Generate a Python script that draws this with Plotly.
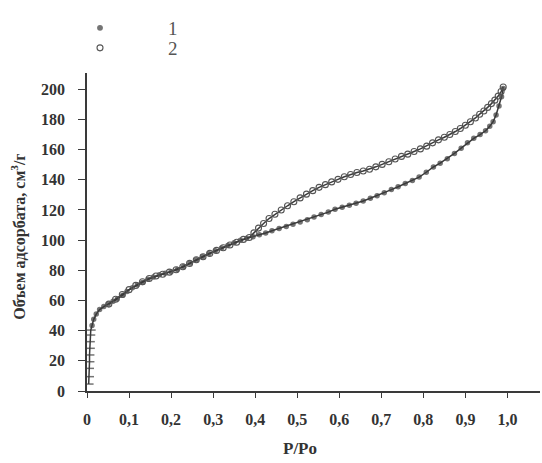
import plotly.graph_objects as go

# Series 1: adsorption branch (filled markers)
p1 = [0.004, 0.005, 0.005, 0.006, 0.006, 0.007, 0.007, 0.008, 0.009, 0.012,
      0.016, 0.022, 0.030, 0.040, 0.050, 0.062, 0.072, 0.085, 0.095, 0.108,
      0.120, 0.132, 0.145, 0.158, 0.172, 0.186, 0.200, 0.215, 0.230, 0.245,
      0.260, 0.275, 0.290, 0.305, 0.320, 0.335, 0.350, 0.365, 0.380, 0.395,
      0.410, 0.425, 0.440, 0.457, 0.474, 0.490, 0.507, 0.524, 0.540, 0.557,
      0.574, 0.590, 0.607, 0.624, 0.640, 0.657, 0.674, 0.690, 0.707, 0.724,
      0.740, 0.757, 0.774, 0.790, 0.807, 0.824, 0.840, 0.857, 0.874, 0.890,
      0.905, 0.920, 0.935, 0.948, 0.958, 0.966, 0.973, 0.980, 0.986, 0.990]
v1 = [4.6, 9.5, 15.0, 19.4, 23.9, 28.3, 32.7, 37.1, 40.4, 43.5,
      47.5, 51.0, 54.0, 56.0, 57.5, 59.5, 61.0, 63.5, 66.0, 68.5,
      70.5, 72.0, 74.0, 75.5, 77.0, 78.0, 79.0, 80.5, 82.5, 84.8,
      87.0, 89.0, 91.0, 93.0, 94.8, 96.5, 98.2, 100.0, 101.2, 102.3,
      103.5, 104.8, 106.2, 107.8, 109.0, 110.5, 112.0, 113.6, 115.3, 117.0,
      118.6, 120.5, 121.8, 123.2, 124.5, 126.0, 127.8, 129.5, 131.5, 133.5,
      135.4, 137.5, 139.5, 141.8, 145.0, 148.5, 151.0, 154.0, 157.5, 161.0,
      164.5, 167.5, 170.0, 172.5, 175.5, 178.5, 183.0, 189.0, 195.0, 200.5]

# Series 2: desorption branch (open circles)
p2 = [0.990, 0.985, 0.978, 0.970, 0.962, 0.953, 0.944, 0.934, 0.924, 0.912,
      0.900, 0.888, 0.876, 0.863, 0.850, 0.836, 0.822, 0.808, 0.793, 0.778,
      0.763, 0.748, 0.733, 0.718, 0.702, 0.687, 0.672, 0.657, 0.642, 0.627,
      0.612, 0.597, 0.582, 0.567, 0.552, 0.537, 0.522, 0.507, 0.492, 0.477,
      0.462, 0.447, 0.433, 0.420, 0.408, 0.397, 0.386, 0.372, 0.356, 0.340,
      0.324, 0.308, 0.292, 0.276, 0.260, 0.244, 0.228, 0.212, 0.196, 0.180,
      0.164, 0.148, 0.132, 0.116, 0.100, 0.084, 0.068, 0.052]
v2 = [201.5, 198.5, 195.5, 192.8, 190.5, 188.0, 185.6, 183.5, 181.0, 178.5,
      176.2, 174.0, 172.0, 170.0, 168.2, 166.5, 164.5, 162.3, 160.5, 158.8,
      157.0, 155.5, 153.8, 152.0, 150.2, 148.6, 147.0, 145.8, 144.8, 143.5,
      142.0, 140.3, 138.6, 136.8, 135.0, 132.8, 130.5, 128.0, 125.5, 122.8,
      120.0, 117.2, 114.3, 111.0, 108.0, 104.8, 101.8, 100.5, 98.6, 96.8,
      95.0, 93.2, 91.2, 89.0, 87.0, 84.6, 82.4, 80.4, 78.8, 77.4,
      76.2, 74.6, 72.4, 70.0, 67.2, 64.0, 60.8, 57.6]

series_names = ["1", "2"]
x_tick_vals = [0, 0.1, 0.2, 0.3, 0.4, 0.5, 0.6, 0.7, 0.8, 0.9, 1.0]
x_tick_text = ["0", "0,1", "0,2", "0,3", "0,4", "0,5", "0,6", "0,7", "0,8", "0,9", "1,0"]
y_tick_vals = [0, 20, 40, 60, 80, 100, 120, 140, 160, 180, 200]

INK = "#3a3a3a"
SERIF = "Liberation Serif, Times New Roman, serif"

# plot series 1 from high to low pressure so the legend picks up the dot symbol
x1r = p1[::-1]
y1r = v1[::-1]
sym1 = ["line-ew" if v < 42 else "circle" for v in y1r]
size1 = [7 if v < 42 else 4 for v in y1r]

fig = go.Figure()
# connecting lines
fig.add_trace(go.Scatter(x=p1, y=v1, mode="lines", showlegend=False,
                         line=dict(color=INK, width=1.5), hoverinfo="skip"))
fig.add_trace(go.Scatter(x=p2, y=v2, mode="lines", showlegend=False,
                         line=dict(color=INK, width=1.5), hoverinfo="skip"))
# markers (with legend entries)
fig.add_trace(go.Scatter(
    x=x1r, y=y1r, name=series_names[0], mode="markers", legend="legend",
    marker=dict(symbol=sym1, size=size1, color=INK, line=dict(color=INK, width=1.5)),
))
fig.add_trace(go.Scatter(
    x=p2, y=v2, name=series_names[1], mode="markers", legend="legend2",
    marker=dict(symbol="circle-open", size=6, color="#555555", line=dict(width=1.1)),
))

leg_common = dict(xanchor="left", yanchor="middle",
                  font=dict(family=SERIF, size=19, color="#555555"),
                  itemwidth=126, bgcolor="rgba(0,0,0,0)")

fig.update_layout(
    width=542, height=463,
    margin=dict(l=87, r=2, t=73, b=72),
    paper_bgcolor="white", plot_bgcolor="white",
    showlegend=True,
    legend=dict(x=-0.1214, y=1.1415, **leg_common),
    legend2=dict(x=-0.1214, y=1.0786, **leg_common),
    xaxis=dict(range=[0, 1.0775], showgrid=False, zeroline=False,
               showline=True, linecolor=INK, linewidth=1.5,
               ticks="outside", ticklen=5, tickwidth=1.3, tickcolor=INK,
               tickvals=x_tick_vals, ticktext=x_tick_text,
               ticklabelstandoff=8,
               tickfont=dict(family=SERIF, size=16, color="#333333", weight="bold")),
    yaxis=dict(range=[0, 210.8], showgrid=False, zeroline=False,
               showline=True, linecolor=INK, linewidth=1.5,
               ticks="outside", ticklen=7, tickwidth=1.3, tickcolor=INK,
               tickvals=y_tick_vals, ticklabelstandoff=10,
               tickfont=dict(family=SERIF, size=16, color="#333333", weight="bold")),
    annotations=[
        dict(text="<b>P/Po</b>", xref="paper", yref="paper", x=0.47, y=-0.182,
             xanchor="center", yanchor="middle", showarrow=False,
             font=dict(family=SERIF, size=17, color="#333333")),
        dict(text="<b>Объем адсорбата, см<sup>3</sup>/г</b>", xref="paper", yref="paper",
             x=-0.150, y=0.485, xanchor="center", yanchor="middle",
             textangle=-90, showarrow=False,
             font=dict(family=SERIF, size=16, color="#333333")),
    ],
)

fig.write_html("out.html")
